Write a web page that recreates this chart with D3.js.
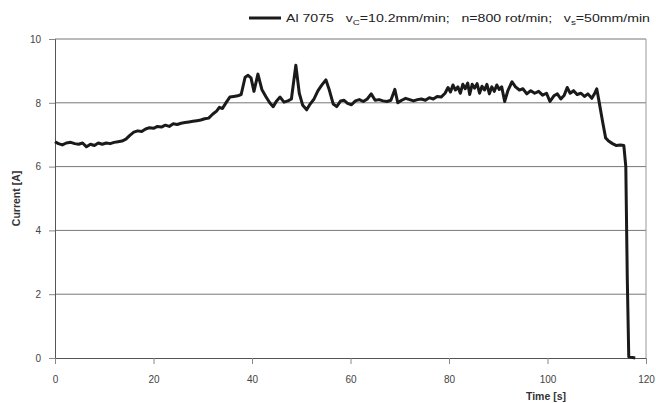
<!DOCTYPE html>
<html lang="en">
<head>
    <meta charset="UTF-8">
    <title>Current vs time</title>
    <script src="https://d3js.org/d3.v7.min.js"></script>
    <style>
        body { margin: 0; background: #fff; }
        svg { display: block; font-family: 'Liberation Sans', Arial, sans-serif; }
    </style>
</head>
<body>
    <script>
        const width = 656;
        const height = 403;
        const margin = { top: 39, right: 10, bottom: 45, left: 55 };

        // time [s]
        const times = [
            0, 0.7, 1.5, 2.3, 3.2, 4, 4.8, 5.6, 6.4, 7.2, 8, 8.8, 9.6, 10.4, 11.2, 12, 12.8, 13.6, 14.4, 15.2,
            16, 16.8, 17.6, 18.4, 19.2, 20, 20.8, 21.6, 22.4, 23.2, 24, 24.8, 25.6, 26.4, 27.2, 28, 28.8, 29.6,
            30.4, 31.2, 32, 32.8, 33.4, 34, 34.8, 35.5, 36.3, 37.1, 37.8, 38.6, 39.2, 39.8, 40.4, 41.2, 42,
            42.8, 43.6, 44.3, 45, 45.7, 46.5, 47.3, 48, 48.9, 49.6, 50.3, 51.1, 51.8, 52.6, 53.4, 54.2, 55,
            55.7, 56.5, 57.2, 58, 58.7, 59.4, 60.2, 61, 61.8, 62.6, 63.4, 64.2, 65, 65.8, 66.6, 67.4, 68.2,
            69, 69.6, 70.4, 71.2, 72, 72.8, 73.6, 74.4, 75.2, 76, 76.8, 77.6, 78.4,
            79.2, 79.8, 80.3, 80.8, 81.3, 81.8, 82.3, 82.8, 83.3, 83.8, 84.2, 84.7,
            85.2, 85.7, 86.2, 86.7, 87.2, 87.7, 88.2, 88.7, 89.2, 89.7, 90.2, 90.7, 91.3,
            92, 92.8, 93.5, 94.3, 95, 95.8, 96.6, 97.4, 98.2, 99, 99.8, 100.5, 101.3, 102, 102.7, 103.4, 104,
            104.6, 105.3, 106, 106.8, 107.5, 108.2, 109, 109.6, 110, 110.4, 111.2, 111.8, 112.4, 113.2, 114,
            114.8, 115.5, 115.9, 116.2, 116.5, 117.2, 117.8
        ];
        // current [A]
        const current = [
            6.78, 6.72, 6.68, 6.74, 6.76, 6.72, 6.70, 6.74, 6.62, 6.70, 6.66, 6.74, 6.70, 6.74, 6.72, 6.76, 6.78, 6.80, 6.86, 6.98,
            7.08, 7.12, 7.10, 7.18, 7.22, 7.20, 7.26, 7.24, 7.30, 7.26, 7.34, 7.32, 7.36, 7.38, 7.40, 7.42, 7.44, 7.46,
            7.50, 7.52, 7.64, 7.74, 7.86, 7.82, 8.02, 8.18, 8.20, 8.22, 8.26, 8.80, 8.86, 8.78, 8.36, 8.90, 8.42,
            8.20, 8.00, 7.88, 8.06, 8.18, 8.02, 8.06, 8.12, 9.18, 8.30, 7.92, 7.78, 7.96, 8.12, 8.38, 8.56, 8.72,
            8.40, 7.96, 7.88, 8.06, 8.08, 7.98, 7.94, 8.06, 8.10, 8.04, 8.12, 8.28, 8.08, 8.10, 8.06, 8.04, 8.08,
            8.42, 8.00, 8.08, 8.14, 8.10, 8.06, 8.10, 8.12, 8.08, 8.16, 8.12, 8.20, 8.18,
            8.30, 8.48, 8.34, 8.56, 8.40, 8.50, 8.30, 8.58, 8.44, 8.62, 8.26, 8.58,
            8.46, 8.60, 8.30, 8.52, 8.40, 8.58, 8.28, 8.50, 8.36, 8.56, 8.42, 8.50, 8.04,
            8.40, 8.66, 8.50, 8.40, 8.44, 8.28, 8.38, 8.30, 8.36, 8.24, 8.30, 8.04, 8.22, 8.28, 8.12, 8.24, 8.48,
            8.30, 8.38, 8.26, 8.30, 8.20, 8.28, 8.14, 8.30, 8.44, 8.10, 7.40, 6.90, 6.80, 6.72, 6.66,
            6.68, 6.66, 6.00, 2.50, 0.04, 0.02, 0.00
        ];
        const xTicks = [0, 20, 40, 60, 80, 100, 120];
        const yTicks = [0, 2, 4, 6, 8, 10];

        const data = times.map((t, i) => ({ t, v: current[i] }));

        const x = d3.scaleLinear().domain([0, 120]).range([margin.left, width - margin.right]);
        const y = d3.scaleLinear().domain([0, 10]).range([height - margin.bottom, margin.top]);

        const svg = d3.select("body").append("svg")
            .attr("width", width)
            .attr("height", height);

        // horizontal grid
        svg.append("g")
            .selectAll("line")
            .data(yTicks.slice(1))
            .join("line")
            .attr("x1", x(0)).attr("x2", x(120))
            .attr("y1", d => y(d)).attr("y2", d => y(d))
            .attr("stroke", "#777").attr("stroke-width", 1);

        // right border
        svg.append("line")
            .attr("x1", x(120)).attr("x2", x(120))
            .attr("y1", y(0)).attr("y2", y(10))
            .attr("stroke", "#999");

        const yAxis = svg.append("g")
            .attr("transform", `translate(${x(0)},0)`)
            .call(d3.axisLeft(y).tickValues(yTicks).tickSize(6).tickPadding(8).tickFormat(d3.format("d")));
        const xAxis = svg.append("g")
            .attr("transform", `translate(0,${y(0)})`)
            .call(d3.axisBottom(x).tickValues(xTicks).tickSize(6).tickPadding(12).tickFormat(d3.format("d")));

        [xAxis, yAxis].forEach(a => {
            a.select(".domain").attr("stroke", "#555");
            a.selectAll(".tick line").attr("stroke", "#888");
            a.selectAll(".tick text").attr("fill", "#444").style("font-size", "10px");
        });

        // data line
        const line = d3.line().x(d => x(d.t)).y(d => y(d.v));
        svg.append("path")
            .datum(data)
            .attr("fill", "none")
            .attr("stroke", "#1a1a1a")
            .attr("stroke-width", 3)
            .attr("stroke-linejoin", "round")
            .attr("d", line);

        // axis titles
        svg.append("text")
            .attr("transform", `translate(20,${(y(0) + y(10)) / 2}) rotate(-90)`)
            .attr("text-anchor", "middle")
            .attr("font-weight", "bold")
            .attr("font-size", 10.5)
            .attr("fill", "#333")
            .text("Current [A]");

        svg.append("text")
            .attr("x", 546).attr("y", 400)
            .attr("text-anchor", "middle")
            .attr("font-weight", "bold")
            .attr("font-size", 10.5)
            .attr("fill", "#333")
            .text("Time [s]");

        // legend
        const legend = svg.append("g");
        legend.append("line")
            .attr("x1", 249).attr("x2", 281)
            .attr("y1", 18).attr("y2", 18)
            .attr("stroke", "#1a1a1a").attr("stroke-width", 3);
        const lt = legend.append("text")
            .attr("x", 286).attr("y", 22)
            .attr("font-size", 11.5)
            .attr("fill", "#222")
            .attr("textLength", 364)
            .attr("lengthAdjust", "spacingAndGlyphs");
        lt.append("tspan").text("Al 7075\u00a0\u00a0 v");
        lt.append("tspan").attr("font-size", 8).attr("dy", 3).text("C");
        lt.append("tspan").attr("dy", -3).text("=10.2mm/min;\u00a0\u00a0 n=800 rot/min;\u00a0\u00a0 v");
        lt.append("tspan").attr("font-size", 8).attr("dy", 3).text("s");
        lt.append("tspan").attr("dy", -3).text("=50mm/min");
    </script>
</body>
</html>
